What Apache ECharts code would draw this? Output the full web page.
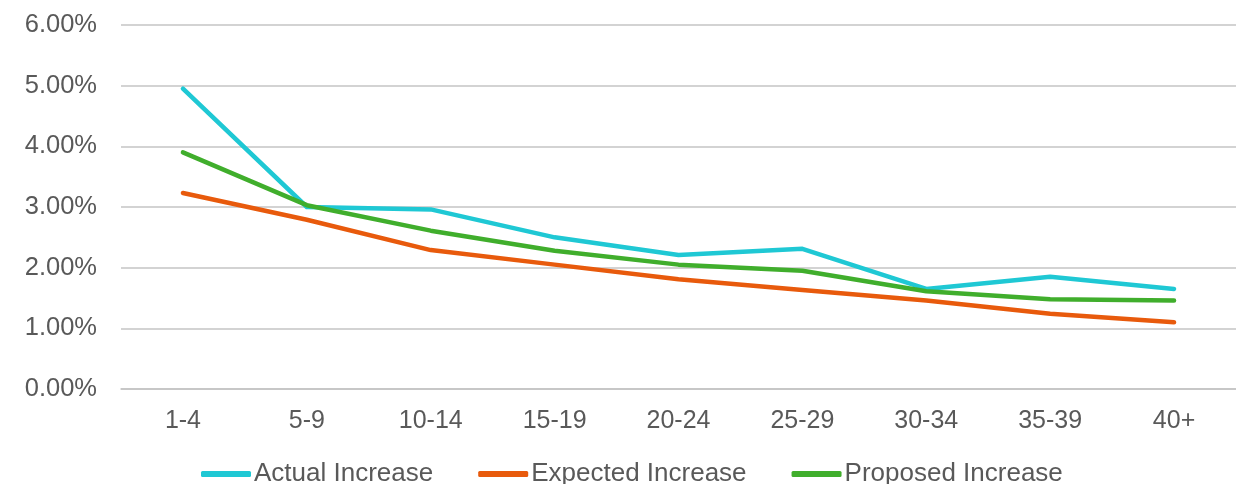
<!DOCTYPE html>
<html>
<head>
<meta charset="utf-8">
<script src="https://cdn.jsdelivr.net/npm/echarts@6/dist/echarts.min.js"></script>
<style>
html,body{margin:0;padding:0;background:#fff;}
#chart{width:1236px;height:484px;}
</style>
</head>
<body>
<div id="chart"></div>
<script>
const categories = ['1-4','5-9','10-14','15-19','20-24','25-29','30-34','35-39','40+'];
const actualIncrease   = [4.95, 3.00, 2.96, 2.50, 2.21, 2.31, 1.65, 1.85, 1.65];
const expectedIncrease = [3.23, 2.79, 2.29, 2.05, 1.81, 1.63, 1.46, 1.24, 1.10];
const proposedIncrease = [3.90, 3.03, 2.61, 2.28, 2.05, 1.95, 1.61, 1.48, 1.46];
const seriesNames = ['Actual Increase','Expected Increase','Proposed Increase'];
const yTicks = {min: 0, max: 6, interval: 1};

const colors = ['#1fc8d4', '#e85a0c', '#40ae2c'];
const font = 'Liberation Sans, Arial, sans-serif';
const chart = echarts.init(document.getElementById('chart'));
const mk = (name, data, color) => ({
  name, type: 'line', data, symbol: 'none', smooth: false,
  lineStyle: {width: 4.5, color, cap: 'round', join: 'round'},
  itemStyle: {color}
});
chart.setOption({
  animation: false,
  color: colors,
  grid: {left: 121, top: 25, width: 1125, height: 364, containLabel: false},
  xAxis: {
    type: 'category', data: categories, boundaryGap: true,
    axisLine: {show: true, lineStyle: {color: '#c4c4c4', width: 1.5}},
    axisTick: {show: false},
    axisLabel: {color: '#595959', fontSize: 25, fontFamily: font, margin: 20}
  },
  yAxis: {
    type: 'value', min: yTicks.min, max: yTicks.max, interval: yTicks.interval,
    axisLine: {show: false}, axisTick: {show: false},
    splitLine: {lineStyle: {color: '#c4c4c4', width: 1.5}},
    axisLabel: {color: '#595959', fontSize: 25.5, fontFamily: font, margin: 24,
      formatter: v => v.toFixed(2) + '%'}
  },
  legend: {
    data: seriesNames, left: 196, top: 456,
    icon: 'roundRect', itemWidth: 50, itemHeight: 6, itemGap: 45,
    textStyle: {color: '#595959', fontSize: 26, fontFamily: font, padding: [0,0,0,-2]}
  },
  series: [
    mk(seriesNames[0], actualIncrease, colors[0]),
    mk(seriesNames[1], expectedIncrease, colors[1]),
    mk(seriesNames[2], proposedIncrease, colors[2])
  ]
});
</script>
</body>
</html>
